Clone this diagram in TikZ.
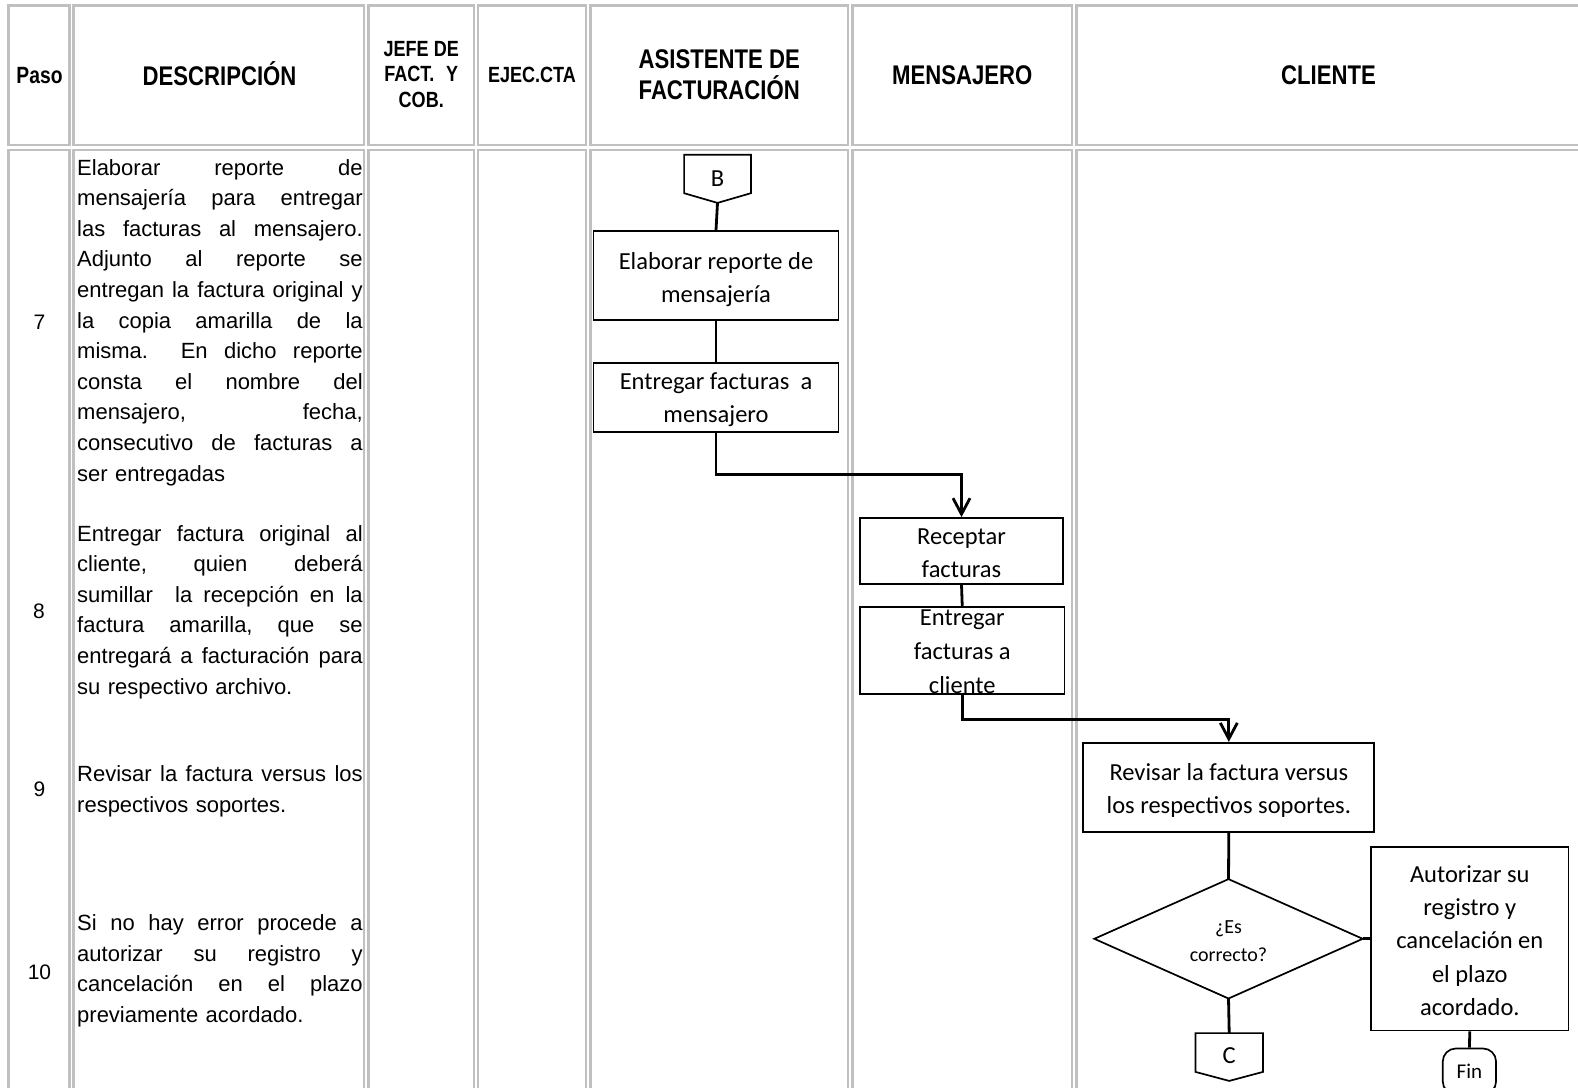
\documentclass[tikz,border=0pt]{standalone}
\usepackage{fontspec}
\setmainfont{Liberation Sans}
\newfontfamily\hdrfont[FakeStretch=0.82]{Liberation Sans}
\newfontfamily\flowfont{Carlito}
\usetikzlibrary{arrows.meta,calc}
\definecolor{cellgray}{RGB}{192,192,192}
% one justified line of the description column
\newcommand{\jl}[1]{\makebox[285.5pt][s]{\frenchspacing\spaceskip=0.25em plus 1fil\relax #1}}
% invisible strut that lowers the text block inside a box
\newcommand{\lift}[1]{\rule{0pt}{#1}}

\begin{document}
\begin{tikzpicture}[x=1pt,y=-1pt,
  cell/.style={draw=cellgray,line width=2.5pt},
  hdr/.style={font=\hdrfont\bfseries\fontsize{27}{31}\selectfont, align=center, inner sep=0pt},
  hdrsmall/.style={hdr, font=\hdrfont\bfseries\fontsize{22}{25.5}\selectfont},
  desc/.style={font=\fontsize{22}{30.6}\selectfont, align=left, text width=285.5pt, inner sep=0pt, anchor=base west},
  num/.style={font=\fontsize{21}{25}\selectfont, inner sep=0pt, anchor=base},
  proc/.style={draw, line width=1.7pt, inner sep=0pt, align=center, font=\flowfont\fontsize{24.5}{33}\selectfont},
  conn/.style={draw=none, inner sep=0pt},
  ctext/.style={inner sep=0pt, font=\flowfont\fontsize{24.5}{30}\selectfont},
  link/.style={line width=2.8pt},
  arr/.style={link, -{Straight Barb[length=16pt,width=17pt]}},
]
\useasboundingbox (0,0) rectangle (1578,1087);
\fill[white] (0,0) rectangle (1578,1087);
\clip (0,0) rectangle (1578,1087);

% table cells: each cell has its own grey frame
\foreach \l/\r in {8.5/69.5, 73.5/364, 368.5/474, 478/586, 590.5/848, 852.5/1072, 1076.5/1580.5} {
  \draw[cell] (\l,5.5) rectangle (\r,145);
  \draw[cell] (\l,150) rectangle (\r,1110);
}

% column headings
\node[hdr, font=\hdrfont\bfseries\fontsize{23.5}{27}\selectfont] (hpaso) at (39.5,75.3) {Paso};
\node[hdr, anchor=base] (hdesc) at (219.5,85.2) {DESCRIPCIÓN};
\node[hdrsmall] (hjefe) at (421.25,74.5) {JEFE DE\\\makebox[74pt][s]{FACT.\hfill Y}\\COB.};
\node[hdrsmall] (hejec) at (532,75.3) {EJEC.CTA};
\node[hdr] (hasis) at (719.25,75) {ASISTENTE DE\\FACTURACIÓN};
\node[hdr] (hmens) at (962.25,75.3) {MENSAJERO};
\node[hdr] (hcli) at (1328.5,75.3) {CLIENTE};

% step numbers
\node[num] (n7) at (39.5,329.5) {7};
\node[num] (n8) at (39,618.5) {8};
\node[num] (n9) at (39.5,796) {9};
\node[num] (n10) at (39.5,979.5) {10};

% step descriptions
\node[desc] (d7) at (77,175) {\jl{Elaborar reporte de}\\
\jl{mensajería para entregar}\\
\jl{las facturas al mensajero.}\\
\jl{Adjunto al reporte se}\\
\jl{entregan la factura original y}\\
\jl{la copia amarilla de la}\\
\jl{misma.\ \ En dicho reporte}\\
\jl{consta el nombre del}\\
\jl{mensajero, fecha,}\\
\jl{consecutivo de facturas a}\\
ser entregadas};
\node[desc] (d8) at (77,541) {\jl{Entregar factura original al}\\
\jl{cliente, quien deberá}\\
\jl{sumillar\ \ la recepción en la}\\
\jl{factura amarilla, que se}\\
\jl{entregará a facturación para}\\
su respectivo archivo.};
\node[desc] (d9) at (77,781.5) {\jl{Revisar la factura versus los}\\
respectivos soportes.};
\node[desc] (d10) at (77,930.5) {\jl{Si no hay error procede a}\\
\jl{autorizar su registro y}\\
\jl{cancelación en el plazo}\\
previamente acordado.};

% flow chart: asistente de facturacion
\node[conn, minimum width=66.4pt, minimum height=38pt] (bcon) at (717.5,174) {};
\draw[line width=1.7pt] (bcon.north west) -- (bcon.north east) -- (bcon.south east)
  -- ($(bcon.south)+(0,9.7)$) coordinate (btip) -- (bcon.south west) -- cycle;
\node[ctext] (btxt) at (717.5,179) {B};
\node[proc, minimum width=245pt, minimum height=89pt] (elab) at (716,275.5) {\lift{25pt}Elaborar reporte de\\mensajería};
\node[proc, minimum width=245pt, minimum height=69.6pt] (entm) at (716,397.5) {\lift{21pt}Entregar facturas~ a\\mensajero};

% mensajero
\node[proc, minimum width=202.5pt, minimum height=66pt] (recep) at (961.5,551) {\lift{21pt}Receptar\\facturas};
\node[proc, minimum width=204.5pt, minimum height=86.8pt, font=\flowfont\fontsize{24.5}{34.3}\selectfont] (entc) at (962.25,650.5) {\lift{18pt}Entregar\\facturas a\\cliente};

% cliente
\node[proc, minimum width=291pt, minimum height=89pt] (rev) at (1228.8,787.2) {\lift{23pt}Revisar la factura versus\\los respectivos soportes.};
\node[conn, minimum width=268pt, minimum height=119pt, align=center, font=\flowfont\fontsize{20}{28}\selectfont] (dia) at (1228.5,938.8) {\lift{18pt}¿Es\\correcto?};
\draw[line width=1.7pt] (dia.north) -- (dia.east) -- (dia.south) -- (dia.west) -- cycle;
\node[proc, minimum width=197.5pt, minimum height=183.5pt, font=\flowfont\fontsize{24.5}{33.3}\selectfont] (aut) at (1469.8,938.8) {\lift{20pt}Autorizar su\\registro y\\cancelación en\\el plazo\\acordado.};
\node[proc, rounded corners=13pt, minimum width=53.3pt, minimum height=46pt, font=\flowfont\fontsize{21}{25}\selectfont] (fin) at (1469.4,1071.5) {Fin};
\node[conn, minimum width=67pt, minimum height=38.4pt] (ccon) at (1229.2,1052.5) {};
\draw[line width=1.7pt] (ccon.north west) -- (ccon.north east) -- (ccon.south east)
  -- ($(ccon.south)+(0,9)$) -- (ccon.south west) -- cycle;
\node[ctext] (ctxt) at (1229.2,1055.5) {C};

% connectors
\draw[link] (btip) -- (elab.north);
\draw[link] (elab.south) -- (entm.north);
\draw[arr] (entm.south) -- ++(0,41.7) -| (recep.north);
\draw[link] (recep.south) -- (entc.north);
\draw[arr] (entc.south) -- ++(0,24.5) -| (rev.north);
\draw[link] (rev.south) -- (dia.north);
\draw[link] (dia.east) -- (aut.west);
\draw[link] (aut.south) -- (fin.north);
\draw[link] (dia.south) -- (ccon.north);
\end{tikzpicture}
\end{document}
